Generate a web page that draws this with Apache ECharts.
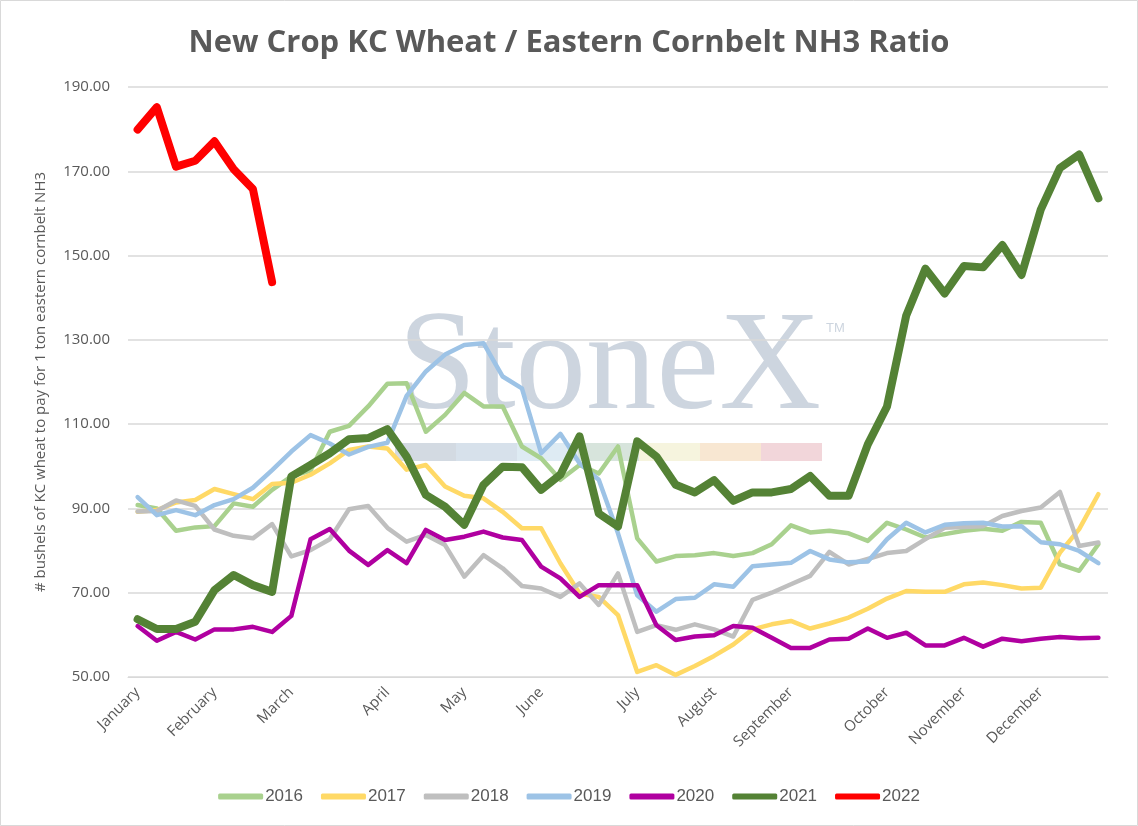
<!DOCTYPE html>
<html>
<head>
<meta charset="utf-8">
<script src="https://cdn.jsdelivr.net/npm/echarts@6/dist/echarts.min.js"></script>
<style>
  html, body { margin: 0; padding: 0; background: #fff; }
  #chart { width: 1138px; height: 826px; }
</style>
</head>
<body>
<div id="chart"></div>
<script>
// weekly points, 51 per year
const weeks = Array.from({ length: 51 }, (_, i) => 'W' + (i + 1));
const monthLabels = ['January', 'February', 'March', 'April', 'May', 'June',
  'July', 'August', 'September', 'October', 'November', 'December'];
const monthStartWeek = [0, 4, 8, 13, 17, 21, 26, 30, 34, 39, 43, 47];

const yTicks = [50, 70, 90, 110, 130, 150, 170, 190];

const y2016 = [90.8, 90.0, 84.7, 85.5, 85.8, 91.2, 90.4, 94.4, 97.6, 99.0,
  108.2, 109.6, 114.2, 119.6, 119.7, 108.2, 112.2, 117.4, 114.2, 114.2,
  104.7, 101.9, 96.8, 100.3, 98.3, 104.7, 82.9, 77.4, 78.7, 78.9,
  79.4, 78.7, 79.4, 81.5, 86.0, 84.3, 84.7, 84.1, 82.3, 86.6,
  85.0, 83.1, 83.9, 84.7, 85.2, 84.7, 86.8, 86.6, 76.7, 75.2, 81.5];
const y2017 = [89.2, 89.6, 91.4, 92.0, 94.6, 93.4, 92.2, 95.8, 96.1, 98.0,
  100.7, 103.9, 104.7, 104.2, 99.2, 100.3, 95.2, 93.0, 92.4, 89.2,
  85.3, 85.3, 77.0, 69.8, 69.0, 64.7, 51.2, 52.8, 50.5, 52.6,
  55.0, 57.7, 61.3, 62.5, 63.3, 61.5, 62.7, 64.1, 66.2, 68.6,
  70.4, 70.2, 70.2, 72.0, 72.4, 71.8, 71.0, 71.2, 79.5, 85.1, 93.4];
const y2018 = [89.3, 89.4, 91.9, 90.6, 85.0, 83.5, 82.9, 86.3, 78.6, 80.1,
  82.7, 89.8, 90.6, 85.4, 82.1, 83.7, 81.3, 73.8, 78.9, 75.8,
  71.6, 71.0, 69.0, 72.2, 67.1, 74.6, 60.7, 62.3, 61.2, 62.5,
  61.3, 59.6, 68.3, 70.0, 72.0, 74.0, 79.7, 76.7, 78.0, 79.4,
  79.9, 82.7, 85.4, 85.6, 85.8, 88.2, 89.4, 90.2, 93.9, 81.1, 81.9];
const y2019 = [92.7, 88.4, 89.6, 88.4, 90.8, 92.2, 94.9, 99.1, 103.5, 107.4,
  105.4, 102.8, 104.6, 105.6, 116.7, 122.5, 126.5, 128.8, 129.2, 121.3,
  118.5, 103.1, 107.7, 100.7, 96.8, 84.1, 69.4, 65.5, 68.5, 68.8,
  72.0, 71.4, 76.3, 76.7, 77.1, 79.9, 77.9, 77.2, 77.4, 82.7,
  86.6, 84.3, 86.1, 86.5, 86.6, 85.7, 85.8, 82.0, 81.5, 79.9, 77.0];
const y2020 = [62.1, 58.6, 60.7, 58.9, 61.3, 61.3, 61.9, 60.7, 64.5, 82.7,
  85.1, 80.0, 76.6, 80.1, 77.0, 84.9, 82.5, 83.3, 84.5, 83.1,
  82.5, 76.2, 73.4, 69.0, 71.8, 71.8, 71.8, 62.3, 58.8, 59.6,
  59.9, 62.1, 61.7, 59.3, 56.9, 56.9, 58.9, 59.1, 61.5, 59.3,
  60.5, 57.5, 57.5, 59.3, 57.2, 59.1, 58.5, 59.1, 59.5, 59.2, 59.3];
const y2021 = [63.7, 61.4, 61.4, 63.1, 70.6, 74.2, 71.8, 70.2, 97.6, 100.3,
  103.1, 106.4, 106.7, 108.8, 102.3, 93.2, 90.4, 86.1, 95.6, 99.9,
  99.8, 94.4, 98.0, 107.1, 88.8, 85.7, 105.9, 102.3, 95.6, 93.8,
  96.7, 91.8, 93.8, 93.8, 94.6, 97.7, 93.0, 93.0, 105.2, 114.2,
  135.8, 146.9, 141.0, 147.5, 147.2, 152.5, 145.4, 160.9, 170.8, 174.0, 163.6];
const y2022 = [179.9, 185.2, 171.1, 172.5, 177.1, 170.5, 165.8, 143.7];

const years = ['2016', '2017', '2018', '2019', '2020', '2021', '2022'];
const yearData = [y2016, y2017, y2018, y2019, y2020, y2021, y2022];
const yearColors = ['#A9D18E', '#FFD966', '#BFBFBF', '#9DC3E6', '#B000A0', '#548235', '#FF0000'];
const yearWidths = [4.5, 4.5, 4.5, 4.5, 4.5, 8, 8];

const myChart = echarts.init(document.getElementById('chart'));

const mySeries = years.map((name, i) => ({
  name: name,
  type: 'line',
  data: yearData[i],
  symbol: 'none',
  smooth: false,
  color: yearColors[i],
  lineStyle: { width: yearWidths[i], color: yearColors[i], cap: 'round', join: 'round' }
}));

// StoneX watermark
const stripColors = ['#D3DAE2', '#D7E1EB', '#DEEBF3', '#D7E4DC', '#F6F4DE', '#F8E7D2', '#F2D6DA'];
const watermark = [
  {
    type: 'text', z: 0, silent: true,
    left: 398, top: 300,
    style: { text: 'StoneX', font: '141px "Liberation Serif"', fill: '#CDD5DF' }
  },
  {
    type: 'text', z: 0, silent: true,
    left: 826, top: 322,
    style: { text: 'TM', font: '13px "Liberation Sans"', fill: '#CDD5DF' }
  }
].concat(stripColors.map((c, i) => ({
  type: 'rect', z: 0, silent: true,
  shape: { x: 395 + i * 61, y: 443, width: 61, height: 18 },
  style: { fill: c }
}))).concat([{
  type: 'rect', z: 100, silent: true,
  shape: { x: 0.5, y: 0.5, width: 1137, height: 825 },
  style: { fill: 'none', stroke: '#D9D9D9', lineWidth: 1 }
}]);

myChart.setOption({
  animation: false,
  backgroundColor: '#fff',
  title: {
    show: true,
    text: 'New Crop KC Wheat / Eastern Cornbelt NH3 Ratio',
    left: 'center',
    top: 23,
    textStyle: { fontFamily: 'Open Sans', fontSize: 31, fontWeight: 'bold', color: '#595959' }
  },
  graphic: watermark,
  legend: {
    bottom: 16,
    left: 'center',
    itemWidth: 45,
    itemHeight: 6,
    itemGap: 18,
    icon: 'roundRect',
    textStyle: { fontFamily: 'Liberation Sans', fontSize: 17, color: '#595959', padding: [0, 0, 0, -3] },
    data: years
  },
  grid: { left: 128, right: 30, top: 87, bottom: 149 },
  xAxis: {
    type: 'category',
    data: weeks,
    boundaryGap: true,
    axisLine: { show: true, lineStyle: { color: '#D9D9D9' } },
    axisTick: { show: false },
    axisLabel: {
      rotate: 45,
      interval: (idx) => monthStartWeek.indexOf(idx) >= 0,
      formatter: (val, idx) => {
        const m = monthStartWeek.indexOf(idx);
        return m >= 0 ? monthLabels[m] : '';
      },
      fontFamily: 'Open Sans',
      fontSize: 15,
      color: '#595959',
      margin: 13
    }
  },
  yAxis: {
    type: 'value',
    min: yTicks[0],
    max: yTicks[yTicks.length - 1],
    interval: 20,
    name: '# bushels of KC wheat to pay for 1 ton eastern cornbelt NH3',
    nameLocation: 'middle',
    nameGap: 80,
    nameTextStyle: { fontFamily: 'Open Sans', fontSize: 15, color: '#595959' },
    axisLine: { show: false },
    axisTick: { show: false },
    splitLine: { lineStyle: { color: '#D9D9D9', width: 1.5 } },
    axisLabel: {
      formatter: (v) => v.toFixed(2),
      fontFamily: 'Open Sans',
      fontSize: 15,
      color: '#595959',
      margin: 18
    }
  },
  tooltip: { trigger: 'axis' },
  series: mySeries
});
</script>
</body>
</html>
